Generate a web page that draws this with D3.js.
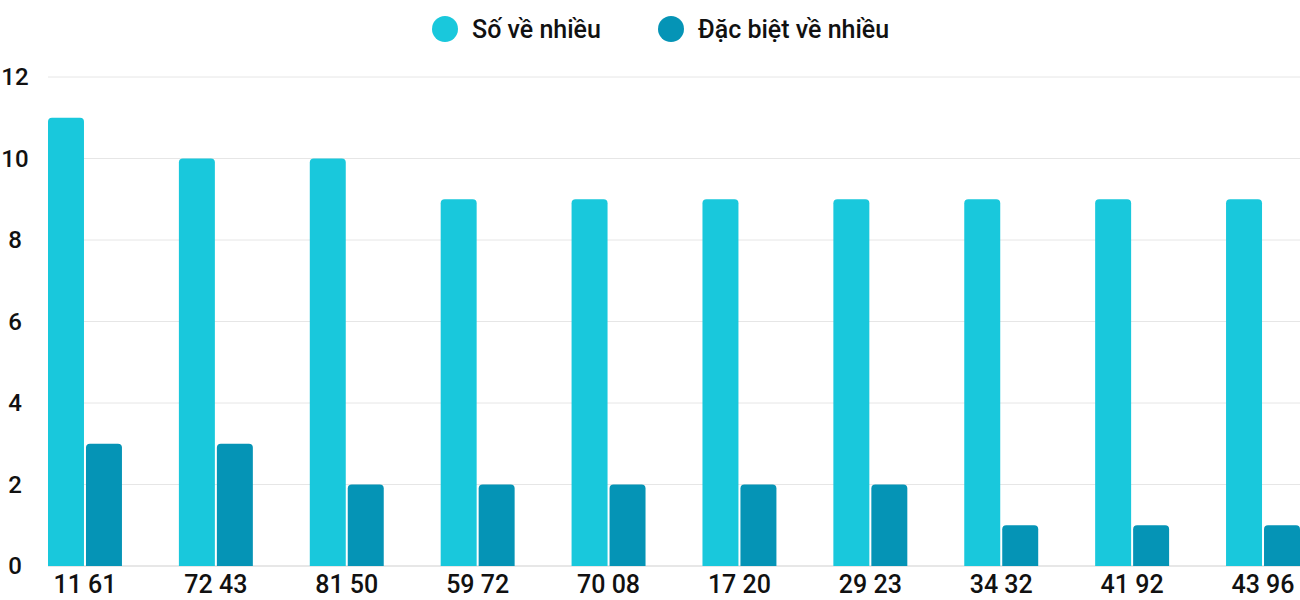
<!DOCTYPE html>
<html>
<head>
<meta charset="utf-8">
<script src="https://cdn.jsdelivr.net/npm/d3@7"></script>
<style>
  body { margin: 0; background: #fff; font-family: Roboto, sans-serif; }
</style>
</head>
<body>
<div id="chart"></div>
<script>
const categories = ['11 61', '72 43', '81 50', '59 72', '70 08', '17 20', '29 23', '34 32', '41 92', '43 96'];
const seriesNames = ['Số về nhiều', 'Đặc biệt về nhiều'];
const soVeNhieu = [11, 10, 10, 9, 9, 9, 9, 9, 9, 9];
const dacBiet = [3, 3, 2, 2, 2, 2, 2, 1, 1, 1];
const yTicks = [0, 2, 4, 6, 8, 10, 12];
const colors = ['#19c8dc', '#0594b6'];

const width = 1300, height = 600;
const margin = { top: 77, left: 48, right: 0, bottom: 34 };

const svg = d3.select('#chart').append('svg')
    .attr('width', width).attr('height', height);

const x = d3.scaleBand()
    .domain(categories)
    .range([margin.left, width - margin.right])
    .paddingInner(0.435)
    .paddingOuter(0);

const y = d3.scaleLinear()
    .domain([0, 12])
    .range([height - margin.bottom, margin.top]);

// grid
svg.append('g')
    .selectAll('line')
    .data(yTicks)
    .join('line')
    .attr('x1', margin.left).attr('x2', width)
    .attr('y1', d => y(d)).attr('y2', d => y(d))
    .attr('stroke', d => d === 0 ? '#cfcfcf' : '#e6e6e6')
    .attr('stroke-width', 1);

svg.append('g')
    .selectAll('text')
    .data(yTicks)
    .join('text')
    .attr('x', 15).attr('y', d => y(d))
    .attr('dy', '0.35em')
    .attr('text-anchor', 'middle')
    .attr('font-size', '24px')
    .attr('font-weight', 500)
    .attr('fill', '#111')
    .text(d => d);

const gap = 2;
const barW = (x.bandwidth() - gap) / 2;
const r = 4;

const topRounded = (x0, y0, w, h) => {
    const rr = Math.min(r, h);
    return `M${x0},${y0 + h}V${y0 + rr}Q${x0},${y0} ${x0 + rr},${y0}H${x0 + w - rr}Q${x0 + w},${y0} ${x0 + w},${y0 + rr}V${y0 + h}Z`;
};

[soVeNhieu, dacBiet].forEach((vals, s) => {
    svg.append('g')
        .attr('fill', colors[s])
        .selectAll('path')
        .data(vals)
        .join('path')
        .attr('d', (d, i) => {
            const x0 = x(categories[i]) + s * (barW + gap);
            return topRounded(x0, y(d), barW, y(0) - y(d));
        });
});

svg.append('g')
    .selectAll('text')
    .data(categories)
    .join('text')
    .attr('x', d => x(d) + x.bandwidth() / 2)
    .attr('y', height - 7)
    .attr('text-anchor', 'middle')
    .attr('font-size', '25px')
    .attr('font-weight', 500)
    .attr('fill', '#111')
    .text(d => d);

// legend
const legendX = [445, 671];
const legend = svg.append('g');
seriesNames.forEach((name, i) => {
    legend.append('circle')
        .attr('cx', legendX[i]).attr('cy', 29).attr('r', 13)
        .attr('fill', colors[i]);
    legend.append('text')
        .attr('x', legendX[i] + 27).attr('y', 29)
        .attr('dy', '0.35em')
        .attr('font-size', '25px')
        .attr('font-weight', 500)
        .attr('fill', '#111')
        .text(name);
});
</script>
</body>
</html>
